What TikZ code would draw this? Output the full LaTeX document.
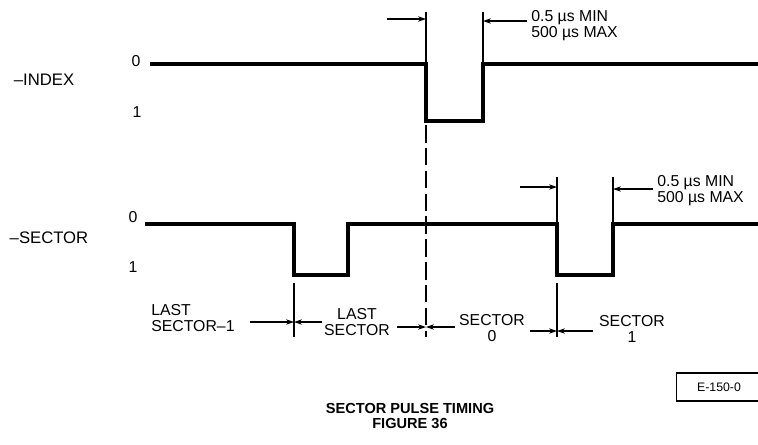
\documentclass[tikz,border=0pt]{standalone}
\usepackage{fontspec}
\setmainfont{Liberation Sans}
\usetikzlibrary{arrows.meta}

\begin{document}
\begin{tikzpicture}[x=0.02cm,y=-0.02cm,>={Stealth[length=4.5pt,width=3pt]},
    font=\fontsize{9}{9}\selectfont]
    \tikzset{
        wave/.style={line width=1.9pt},
        ext/.style={line width=0.6pt},
        dim/.style={->,line width=0.6pt},
        note/.style={anchor=west,align=left,inner sep=0pt},
        seclabel/.style={align=center,inner sep=0pt},
        signame/.style={font=\fontsize{9.5}{11}\selectfont,inner sep=0pt},
        level/.style={inner sep=0pt}
    }
    \useasboundingbox (0,0) rectangle (758,444);

    % signal names and levels
    \node[signame] (index) at (44,80) {–INDEX};
    \node[level] (i0) at (136,61) {0};
    \node[level] (i1) at (137,112) {1};
    \node[signame] (sector) at (49,238) {–SECTOR};
    \node[level] (s0) at (133,217) {0};
    \node[level] (s1) at (133,267) {1};

    % -INDEX pulse
    \coordinate (ifall) at (426,64);
    \coordinate (irise) at (483,64);
    \draw[wave] (150,64) -- (ifall) -- ++(0,57) -| (irise) -- (758,64);
    \draw[ext] (ifall) -- ++(0,-52);
    \draw[ext] (irise) -- ++(0,-52);
    \coordinate (iwl) at (426,19);
    \coordinate (iwr) at (483,21);
    \draw[dim] (387,19) -- (iwl);
    \draw[dim] (527,21) -- (iwr);
    \node[note] (iwidth) at (531,26) {0.5 µs MIN\\500 µs MAX};

    % -SECTOR pulses
    \coordinate (sf1) at (294,224);
    \coordinate (sr1) at (348,224);
    \coordinate (sf2) at (557,224);
    \coordinate (sr2) at (613,224);
    \draw[wave] (145,224) -- (sf1) -- ++(0,51) -| (sr1) -- (sf2)
        -- ++(0,51) -| (sr2) -- (758,224);
    \draw[ext] (sf2) -- ++(0,-47);
    \draw[ext] (sr2) -- ++(0,-47);
    \coordinate (swl) at (557,187);
    \coordinate (swr) at (613,189);
    \draw[dim] (520,187) -- (swl);
    \draw[dim] (653,189) -- (swr);
    \node[note] (swidth) at (657,191) {0.5 µs MIN\\500 µs MAX};

    % sector boundaries
    \draw[ext] (294,283) -- (294,337);
    \draw[ext,dash pattern=on 10pt off 3pt] (426,125) -- (426,337);
    \draw[ext] (557,283) -- (557,337);
    \coordinate (m1) at (294,322);
    \coordinate (m2) at (426,327);
    \coordinate (m3) at (557,331);
    \draw[dim] (250,322) -- (m1);
    \draw[dim] (322,322) -- (m1);
    \draw[dim] (397,327) -- (m2);
    \draw[dim] (455,327) -- (m2);
    \draw[dim] (530,331) -- (m3);
    \draw[dim] (593,331) -- (m3);

    \node[seclabel,align=left,anchor=west] (lastm1) at (151,318) {LAST\\SECTOR–1};
    \node[seclabel] (last) at (357,322) {LAST\\SECTOR};
    \node[seclabel] (sec0) at (492,328) {SECTOR\\0};
    \node[seclabel] (sec1) at (632,329) {SECTOR\\1};

    % caption and drawing number
    \node[align=center,font=\bfseries\fontsize{8.3}{8.5}\selectfont] (title)
        at (410,416) {SECTOR PULSE TIMING\\FIGURE 36};
    \node[draw,line width=0.6pt,minimum width=1.7cm,minimum height=0.56cm,
        font=\fontsize{7}{8}\selectfont] (tag) at (719,387) {E-150-0};
\end{tikzpicture}
\end{document}
